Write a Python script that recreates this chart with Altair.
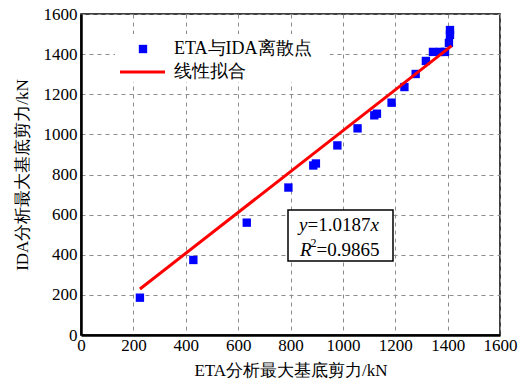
import altair as alt
import pandas as pd

# scatter points (ETA vs IDA max base shear, kN)
eta_x = [225, 429, 633, 792, 887, 897, 979, 1056, 1120, 1130, 1186, 1235, 1278, 1317, 1344, 1371, 1390, 1405, 1409, 1409]
ida_y = [186, 374, 560, 735, 845, 855, 945, 1030, 1095, 1103, 1158, 1236, 1301, 1366, 1411, 1411, 1411, 1456, 1496, 1520]

# fitted line end points
fit_x = [225, 1415]
fit_y = [229, 1441]

tick_values = [0, 200, 400, 600, 800, 1000, 1200, 1400, 1600]

legend_labels = ["ETA与IDA离散点", "线性拟合"]
eq_slope = "=1.0187"
eq_r2 = "=0.9865"

SERIF = "Liberation Serif"

pts = pd.DataFrame({"x": eta_x, "y": ida_y})
fit = pd.DataFrame({"x": fit_x, "y": fit_y})
one = pd.DataFrame({"a": [0]})

xscale = alt.Scale(domain=[0, 1600], nice=False, zero=False)
yscale = alt.Scale(domain=[0, 1600], nice=False, zero=False)

common_axis = dict(
    values=tick_values, format="d", grid=True, gridDash=[4, 4], gridColor="#8c8c8c", gridWidth=1,
    ticks=False, domain=True, domainColor="black", domainWidth=2.5,
    labelFont=SERIF, labelFontSize=17, labelColor="black",
    titleFont=SERIF, titleFontSize=17, titleFontWeight="normal", titleColor="black",
)

xaxis = alt.Axis(title="ETA分析最大基底剪力/kN", labelPadding=2, titlePadding=9, labelFlush=False, **common_axis)
yaxis = alt.Axis(title="IDA分析最大基底剪力/kN", labelPadding=4, titlePadding=12, labelFlush=False, **common_axis)

points = alt.Chart(pts).mark_square(size=70, color="#0000ff", opacity=1).encode(
    x=alt.X("x:Q", scale=xscale, axis=xaxis),
    y=alt.Y("y:Q", scale=yscale, axis=yaxis),
)

line = alt.Chart(fit).mark_line(color="#ff0000", strokeWidth=3).encode(
    x=alt.X("x:Q", scale=xscale),
    y=alt.Y("y:Q", scale=yscale),
)

legend_bg = alt.Chart(one).mark_rect(color="white").encode(
    x=alt.value(34), x2=alt.value(249), y=alt.value(20), y2=alt.value(68)
)
leg_sq = alt.Chart(one).mark_square(size=70, color="#0000ff", opacity=1).encode(
    x=alt.value(62), y=alt.value(35)
)
leg_line = alt.Chart(one).mark_rule(color="#ff0000", strokeWidth=3).encode(
    x=alt.value(39), x2=alt.value(84), y=alt.value(58)
)
leg_t1 = alt.Chart(one).mark_text(text=legend_labels[0], font=SERIF, fontSize=18, align="left", baseline="middle", color="black").encode(
    x=alt.value(93), y=alt.value(35)
)
leg_t2 = alt.Chart(one).mark_text(text=legend_labels[1], font=SERIF, fontSize=18, align="left", baseline="middle", color="black").encode(
    x=alt.value(93), y=alt.value(58)
)

box = alt.Chart(one).mark_rect(fill="white", stroke="black", strokeWidth=1.5).encode(
    x=alt.value(207), x2=alt.value(312), y=alt.value(196), y2=alt.value(247)
)

FS = 19
t_y = alt.Chart(one).mark_text(text="y", font=SERIF, fontSize=FS, fontStyle="italic", align="left", baseline="middle", color="black").encode(
    x=alt.value(218), y=alt.value(211))
t_eq1 = alt.Chart(one).mark_text(text=eq_slope, font=SERIF, fontSize=FS, align="left", baseline="middle", color="black").encode(
    x=alt.value(226.5), y=alt.value(211))
t_x = alt.Chart(one).mark_text(text="x", font=SERIF, fontSize=FS, fontStyle="italic", align="left", baseline="middle", color="black").encode(
    x=alt.value(289.5), y=alt.value(211))
t_R = alt.Chart(one).mark_text(text="R", font=SERIF, fontSize=FS, fontStyle="italic", align="left", baseline="middle", color="black").encode(
    x=alt.value(219), y=alt.value(236))
t_2 = alt.Chart(one).mark_text(text="2", font=SERIF, fontSize=12, align="left", baseline="middle", color="black").encode(
    x=alt.value(229.5), y=alt.value(229))
t_eq2 = alt.Chart(one).mark_text(text=eq_r2, font=SERIF, fontSize=FS, align="left", baseline="middle", color="black").encode(
    x=alt.value(235.5), y=alt.value(236))

chart = alt.layer(
    points, legend_bg, box, line,
    leg_sq, leg_line, leg_t1, leg_t2,
    t_y, t_eq1, t_x, t_R, t_2, t_eq2,
).properties(
    width=419, height=321,
    autosize=alt.AutoSizeParams(type="none"),
    padding={"left": 81, "top": 14, "right": 26, "bottom": 55},
    background="white",
).configure_view(stroke="black", strokeWidth=1.5)

chart.save("out.html", embed_options={"renderer": "svg", "actions": False})
